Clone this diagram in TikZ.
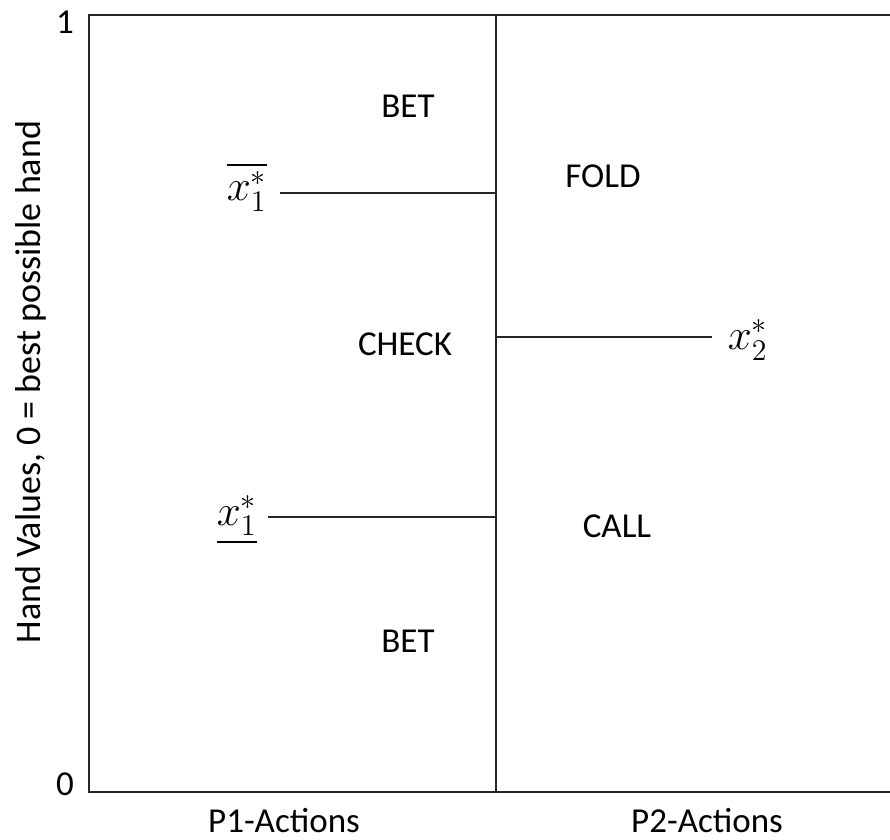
\documentclass[tikz,border=0pt]{standalone}
\usepackage{fontspec}
\setmainfont{Carlito}
\usepackage{amsmath}
\DeclareMathSizes{16}{16}{13}{10}
\usetikzlibrary{positioning}

\begin{document}
\begin{tikzpicture}[x=0.4pt,y=-0.4pt,
	label_text/.style={font=\fontsize{14}{17}\selectfont,inner sep=0pt},
	math_label/.style={font=\fontsize{16}{19}\selectfont,inner sep=5pt},
	frame_line/.style={line width=0.6pt,draw=black!85}]

		\useasboundingbox (0,0) rectangle (890,839);

		% frame
		\coordinate (top_left) at (89,15);
		\coordinate (top_right) at (890,15);
		\coordinate (bot_left) at (89,792);
		\coordinate (bot_right) at (890,792);
		\coordinate (mid_top) at (496,15);
		\coordinate (mid_bot) at (496,792);

		\draw[frame_line] (top_right) -- (top_left) -- (bot_left) -- (bot_right);
		\draw[frame_line] (mid_top) -- (mid_bot);

		% thresholds
		\coordinate (m_hi) at (496,193);
		\coordinate (m_lo) at (496,517);
		\coordinate (m_two) at (496,337);

		\node[math_label] (x1_hi) at (247,187) {$\overline{x_1^*}$};
		\node[math_label,inner sep=4pt] (x1_lo) at (237,520) {$\underline{x_1^*}$};
		\node[math_label,inner sep=6pt] (x2) at (748,340) {$x_2^*$};

		\draw[frame_line] (x1_hi.east |- m_hi) -- (m_hi);
		\draw[frame_line] (x1_lo.east |- m_lo) -- (m_lo);
		\draw[frame_line] (m_two) -- (x2.west |- m_two);

		% actions
		\node[label_text] (bet_hi) at (408,106) {BET};
		\node[label_text] (check) at (405,344) {CHECK};
		\node[label_text] (bet_lo) at (408,641) {BET};
		\node[label_text] (fold) at (603,176) {FOLD};
		\node[label_text] (call) at (617,526) {CALL};

		% axes
		\node[label_text] (one) at (65,22) {1};
		\node[label_text] (zero) at (65,784) {0};
		\node[label_text] (p1) at (284,821) {P1-Actions};
		\node[label_text] (p2) at (707,821) {P2-Actions};
		\node[label_text,font=\fontsize{14.4}{17}\selectfont,rotate=90] (hand) at (31,382) {Hand Values, 0 = best possible hand};
		\end{tikzpicture}
\end{document}
